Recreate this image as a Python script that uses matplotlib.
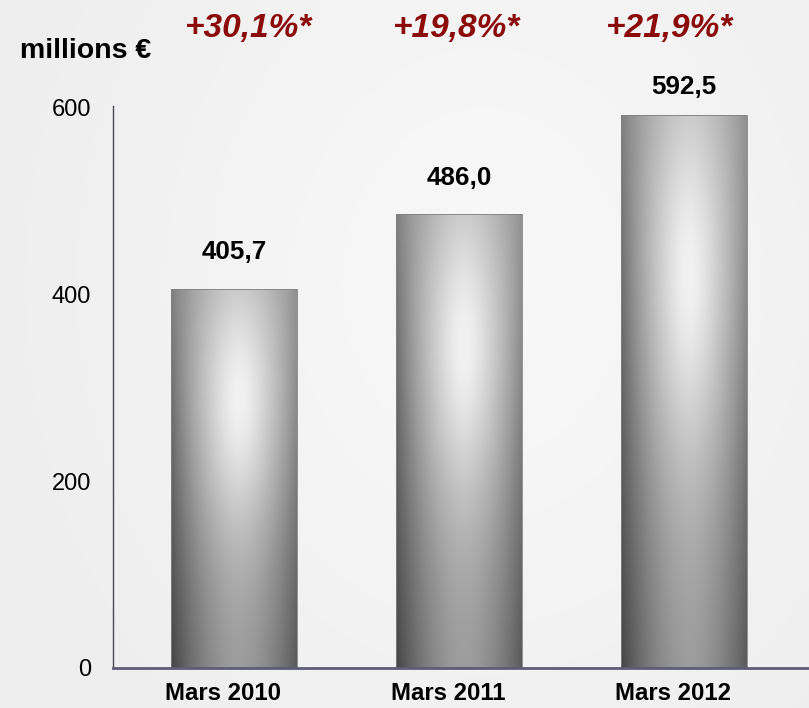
import numpy as np
import matplotlib
matplotlib.use("Agg")
import matplotlib.pyplot as plt

categories = ["Mars 2010", "Mars 2011", "Mars 2012"]
values = [405.7, 486.0, 592.5]
value_labels = ["405,7", "486,0", "592,5"]
growth_labels = ["+30,1%*", "+19,8%*", "+21,9%*"]
yticks = [0, 200, 400, 600]

plt.rcParams['font.family'] = ['Liberation Sans', 'DejaVu Sans']

fig = plt.figure(figsize=(8.09, 7.08), dpi=100)
fig.patch.set_facecolor('#f2f2f2')

# background gradient
bg = fig.add_axes([0, 0, 1, 1], zorder=-10)
bx = np.linspace(0, 1, 300)
by = np.linspace(0, 1, 300)
BX, BY = np.meshgrid(bx, by)
bgval = 0.925 + 0.045 * np.exp(-(((BX - 0.6) / 0.5) ** 2 + ((BY - 0.6) / 0.7) ** 2))
bg.imshow(np.dstack([bgval] * 3), extent=[0, 1, 0, 1], aspect='auto', origin='lower')
bg.set_axis_off()

ax = fig.add_axes([113 / 809, 40 / 708, 696 / 809, (668 - 106) / 708])
ax.patch.set_alpha(0)
x = np.arange(len(categories))
width = 0.56
bars = ax.bar(x, values, width=width, color='none', edgecolor='#808080', linewidth=0.6, zorder=3)

# gradient for bars
nu, nv = 200, 300
u = np.linspace(0, 1, nu)
v = np.linspace(0, 1, nv)
U, V = np.meshgrid(u, v)
edge = 0.27 + 0.23 * V
center = 0.60 + 0.30 * np.exp(-((V - 0.72) / 0.42) ** 2)
hx = 1 - np.clip(np.abs((U - 0.54) / 0.54), 0, 1) ** 1.7
gray = edge + (center - edge) * hx
gray += 0.05 * np.exp(-(((U - 0.54) / 0.18) ** 2 + ((V - 0.7) / 0.2) ** 2))
gray = np.clip(gray, 0, 1)
img = np.dstack([gray] * 3)

for rect in bars:
    x0 = rect.get_x()
    w = rect.get_width()
    h = rect.get_height()
    im = ax.imshow(img, extent=[x0, x0 + w, 0, h], origin='lower', aspect='auto', zorder=2)
    im.set_clip_path(rect)

label_offsets = [37, 36.5, 28]
for xi, val, lab, off in zip(x, values, value_labels, label_offsets):
    ax.annotate(lab, (xi, val), xytext=(0, off), textcoords='offset pixels',
                ha='center', va='center', fontsize=18.7, fontweight='bold', color='black')

ax.set_xlim(-0.538, 2.556)
ax.set_ylim(0, 602)
ax.set_yticks(yticks)
ax.set_yticklabels([str(t) for t in yticks], fontsize=17)
ax.tick_params(axis='y', length=0, pad=16)
ax.set_xticks(x - 0.047)
ax.set_xticklabels(categories, fontsize=17.2, fontweight='bold')
ax.tick_params(axis='x', length=0, pad=10)
ax.set_aspect('auto')

for s in ['top', 'right']:
    ax.spines[s].set_visible(False)
ax.spines['left'].set_color('#4a4858')
ax.spines['left'].set_linewidth(1.0)
ax.spines['bottom'].set_color('#5e5c78')
ax.spines['bottom'].set_linewidth(2.0)
ax.spines['left'].set_zorder(4)
ax.spines['bottom'].set_zorder(4)

fig.text(20 / 809, 1 - 51 / 708, "millions €", fontsize=20.5, fontweight='bold',
         ha='left', va='center', color='black')

gx = [249, 457, 670]
for gxx, g in zip(gx, growth_labels):
    fig.text(gxx / 809, 1 - 29 / 708, g, fontsize=24, fontweight='bold', style='italic',
             ha='center', va='center', color='#8b0a0a')

fig.savefig("out.png", dpi=100, facecolor=fig.get_facecolor())
